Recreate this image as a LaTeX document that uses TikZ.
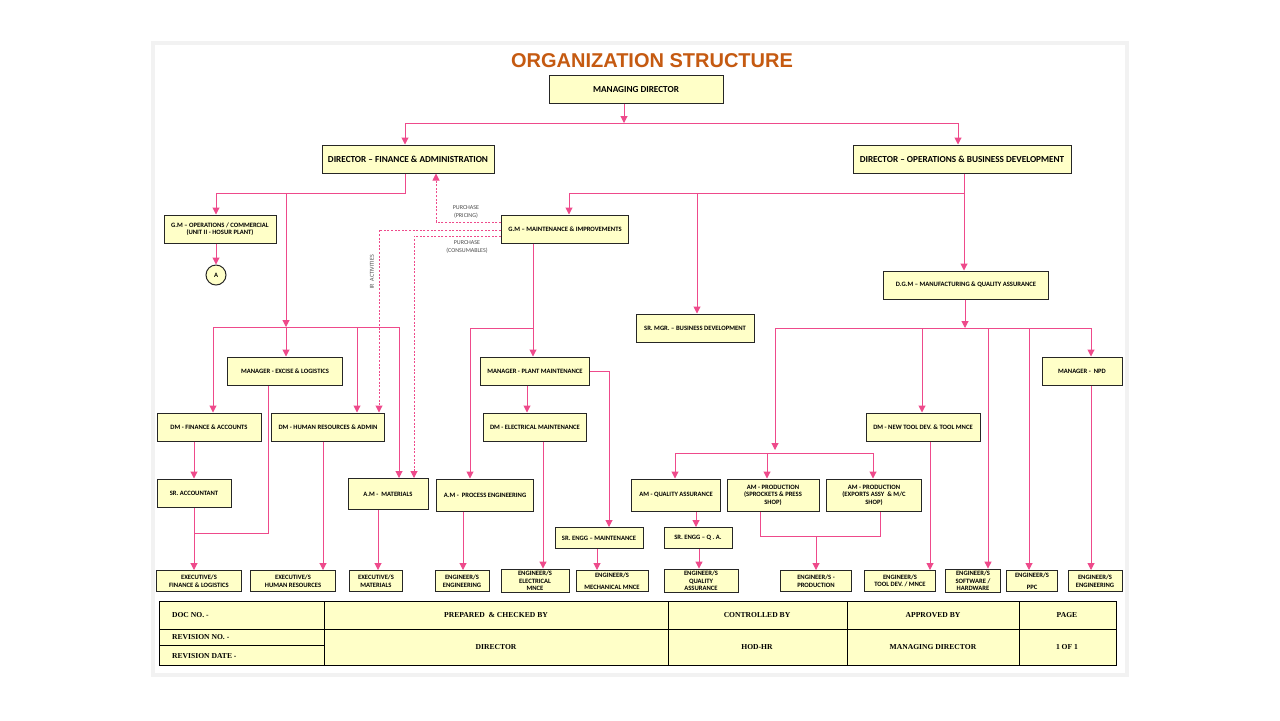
\documentclass[tikz,border=0pt]{standalone}
\usepackage{fontspec}
\setmainfont{Carlito}
\newfontfamily\tabfont{Liberation Serif}
\newfontfamily\titlefont{Liberation Sans}
\usetikzlibrary{arrows.meta}
\definecolor{link}{HTML}{EE4A8B}
\definecolor{boxfill}{HTML}{FFFFC8}
\definecolor{titleorange}{HTML}{C55A11}
\begin{document}
\begin{tikzpicture}[x=0.5pt, y=-0.5pt,
  box/.style={draw=black!85, fill=boxfill, line width=0.5pt, inner sep=1pt,
    align=center, font=\bfseries\fontsize{3.3}{3.8}\selectfont, minimum height=14pt},
  big/.style={box, font=\bfseries\fontsize{4.6}{5.5}\selectfont},
  line/.style={draw=link, line width=0.5pt},
  arr/.style={line, -{Triangle[length=3.5pt, width=3.5pt]}},
  dashlink/.style={arr, dash pattern=on 1pt off 0.8pt},
  note/.style={font=\fontsize{3}{3.6}\selectfont, text=black!70, align=center},
  cell/.style={font=\tabfont\bfseries\fontsize{3.8}{4.5}\selectfont}]
\useasboundingbox (0,0) rectangle (1280,720);
\fill[white] (0,0) rectangle (1280,720);
\fill[black!5] (151,41) rectangle (1129,677);
\fill[white] (155,45) rectangle (1125,673);
\node[font=\titlefont\bfseries\fontsize{10}{12}\selectfont, text=titleorange] (title) at (652,61) {ORGANIZATION STRUCTURE};
% top levels
\node[big, minimum width=87pt, text depth=-3pt] (md) at (636,89) {MANAGING DIRECTOR};
\node[big, minimum width=86pt, text depth=-3pt] (dfa) at (408,159) {DIRECTOR -- FINANCE \& ADMINISTRATION};
\node[big, minimum width=109pt, text depth=-3pt] (dobd) at (962,159) {DIRECTOR -- OPERATIONS \& BUSINESS DEVELOPMENT};
\node[box, minimum width=56pt] (gmoc) at (220,229) {G.M -- OPERATIONS / COMMERCIAL\\(UNIT II - HOSUR PLANT)};
\node[draw=black!85, fill=boxfill, circle, line width=0.5pt, minimum size=10pt, inner sep=0pt, font=\bfseries\fontsize{3.3}{4}\selectfont] (a) at (216,275) {A};
\node[box, minimum width=63.5pt] (gmmi) at (565,229) {G.M -- MAINTENANCE \& IMPROVEMENTS};
\node[box, minimum width=59pt] (srbd) at (695,328) {SR. MGR. -- BUSINESS DEVELOPMENT};
\node[box, minimum width=82.5pt] (dgm) at (966,285) {D.G.M -- MANUFACTURING \& QUALITY ASSURANCE};
% managers
\node[box, minimum width=57.5pt] (mel) at (285,371) {MANAGER - EXCISE \& LOGISTICS};
\node[box, minimum width=54.5pt] (mpm) at (535,371) {MANAGER - PLANT MAINTENANCE};
\node[box, minimum width=40pt] (mnpd) at (1082,371) {MANAGER -\ \ NPD};
\node[box, minimum width=52pt] (dmfa) at (209,427) {DM - FINANCE \& ACCOUNTS};
\node[box, minimum width=56.5pt] (dmhr) at (328,427) {DM - HUMAN RESOURCES \& ADMIN};
\node[box, minimum width=51.5pt] (dmem) at (535,427) {DM - ELECTRICAL MAINTENANCE};
\node[box, minimum width=57pt] (dmnt) at (923,427) {DM - NEW TOOL DEV. \& TOOL MNCE};
% assistant managers
\node[box, minimum width=37pt] (sracc) at (194,493) {SR. ACCOUNTANT};
\node[box, minimum width=40pt, minimum height=15.5pt] (amm) at (388,494) {A.M -\ \ MATERIALS};
\node[box, minimum width=48.5pt, minimum height=16pt] (ampe) at (485,495) {A.M -\ \ PROCESS ENGINEERING};
\node[box, minimum width=44.5pt, minimum height=16pt] (amqa) at (676,495) {AM - QUALITY ASSURANCE};
\node[box, minimum width=46pt, minimum height=16pt] (amps) at (773,495) {AM - PRODUCTION\\(SPROCKETS \& PRESS\\SHOP)};
\node[box, minimum width=47.5pt, minimum height=16pt] (ampx) at (874,495) {AM - PRODUCTION\\(EXPORTS ASSY\ \ \& M/C\\SHOP)};
\node[box, minimum width=44pt, minimum height=10.5pt] (srengm) at (599,538) {SR. ENGG -- MAINTENANCE};
\node[box, minimum width=34pt, minimum height=10.5pt] (srengq) at (698,538) {SR. ENGG -- Q . A.};
% bottom row
\node[box, minimum width=42.5pt, minimum height=10.5pt] (exfl) at (199,581) {EXECUTIVE/S\\FINANCE \& LOGISTICS};
\node[box, minimum width=42.5pt, minimum height=10.5pt] (exhr) at (293,581) {EXECUTIVE/S\\HUMAN RESOURCES};
\node[box, minimum width=26.5pt, minimum height=10.5pt] (exm) at (376,581) {EXECUTIVE/S\\MATERIALS};
\node[box, minimum width=27pt, minimum height=10.5pt] (enge) at (462,581) {ENGINEER/S\\ENGINEERING};
\node[box, minimum width=34pt, minimum height=10.5pt] (engel) at (535,581) {ENGINEER/S\\ELECTRICAL\\MNCE};
\node[box, minimum width=36pt, minimum height=10.5pt] (engmm) at (612,581) {ENGINEER/S\\[2pt]MECHANICAL MNCE};
\node[box, minimum width=37pt, minimum height=10.5pt] (engqa) at (701,581) {ENGINEER/S\\QUALITY\\ASSURANCE};
\node[box, minimum width=35.5pt, minimum height=10.5pt] (engp) at (816,581) {ENGINEER/S -\\PRODUCTION};
\node[box, minimum width=35.5pt, minimum height=10.5pt] (engtd) at (900,581) {ENGINEER/S\\TOOL DEV. / MNCE};
\node[box, minimum width=27.5pt, minimum height=10.5pt] (engsh) at (973,581) {ENGINEER/S\\SOFTWARE /\\HARDWARE};
\node[box, minimum width=25.5pt, minimum height=10.5pt] (engppc) at (1032,581) {ENGINEER/S\\[2pt]PPC};
\node[box, minimum width=27pt, minimum height=10.5pt] (engen) at (1095,581) {ENGINEER/S\\ENGINEERING};
% managing director
\draw[arr] (md.south -| 624,0) -- (624,123);
\draw[line] (405,123) -- (958,123);
\draw[arr] (405,123) -- (dfa.north -| 405,0);
\draw[arr] (958,123) -- (dobd.north -| 958,0);
% finance & administration
\draw[line] (dfa.south -| 405,0) |- (286,193);
\draw[arr] (286,193) -| (gmoc.north -| 216,0);
\draw[arr] (gmoc.south -| 216,0) -- (a);
\draw[arr] (286,193) -- (286,327);
\draw[line] (213,327) -- (399,327);
\draw[arr] (213,327) -- (dmfa.north -| 213,0);
\draw[arr] (286,327) -- (mel.north -| 286,0);
\draw[arr] (357,327) -- (dmhr.north -| 357,0);
\draw[arr] (399,327) -- (amm.north -| 399,0);
\draw[arr] (dmfa.south -| 194,0) -- (sracc);
\draw[arr] (sracc) -- (exfl.north -| 194,0);
\draw[line] (mel.south -| 268,0) |- (194,533);
\draw[arr] (dmhr.south -| 323,0) -- (exhr.north -| 323,0);
\draw[arr] (amm.south -| 378,0) -- (exm.north -| 378,0);
% dotted links
\draw[dashlink] (gmmi.west |- 0,222) -| (dfa.south -| 436,0);
\draw[dashlink] (gmmi.west |- 0,230) -| (dmhr.north -| 379,0);
\draw[dashlink] (gmmi.west |- 0,236) -| (amm.north -| 414,0);
\node[note] (pricing) at (466,212) {PURCHASE\\(PRICING)};
\node[note] (consum) at (467,247) {PURCHASE\\(CONSUMABLES)};
\node[note, rotate=90] (ir) at (372,272) {IR\ \ ACTIVITIES};
% operations & business development
\draw[line] (dobd.south -| 964,0) -- (964,193) -- (569,193);
\draw[arr] (569,193) -- (gmmi.north -| 569,0);
\draw[arr] (697,193) -- (srbd.north -| 697,0);
\draw[arr] (964,193) -- (dgm.north -| 964,0);
\draw[arr] (gmmi.south -| 533,0) -- (mpm.north -| 533,0);
\draw[arr] (533,328) -| (ampe.north -| 470,0);
\draw[arr] (mpm.south -| 527,0) -- (dmem.north -| 527,0);
\draw[arr] (mpm.east) -| (srengm.north -| 609,0);
\draw[arr] (dmem.south -| 543,0) -- (engel.north -| 543,0);
\draw[arr] (ampe.south -| 463,0) -- (enge.north -| 463,0);
\draw[arr] (srengm.south -| 597,0) -- (engmm.north -| 597,0);
% manufacturing & quality
\draw[arr] (dgm.south -| 965,0) -- (965,328);
\draw[line] (775,328) -- (1091,328);
\draw[arr] (775,328) -- (775,450);
\draw[line] (675,453) -- (873,453);
\draw[arr] (675,453) -- (amqa.north -| 675,0);
\draw[arr] (767,453) -- (amps.north -| 767,0);
\draw[arr] (873,453) -- (ampx.north -| 873,0);
\draw[arr] (922,328) -- (dmnt.north -| 922,0);
\draw[arr] (988,328) -- (engsh.north -| 988,0);
\draw[arr] (1029,328) -- (engppc.north -| 1029,0);
\draw[arr] (1091,328) -- (mnpd.north -| 1091,0);
\draw[arr] (dmnt.south -| 930,0) -- (engtd.north -| 930,0);
\draw[arr] (mnpd.south -| 1091,0) -- (engen.north -| 1091,0);
\draw[arr] (amqa.south -| 696,0) -- (srengq.north -| 696,0);
\draw[arr] (srengq.south -| 699,0) -- (engqa.north -| 699,0);
\draw[line] (amps.south -| 760,0) |- (880,536) -- (ampx.south -| 880,0);
\draw[arr] (816,536) -- (engp);
% document table
\draw[fill=boxfill, line width=0.5pt] (159,601) rectangle (1116,665);
\draw[line width=0.5pt] (159,629) -- (1116,629) (159,645) -- (324,645);
\foreach \cx in {324,668,847,1019} \draw[line width=0.5pt] (\cx,601) -- (\cx,665);
\node[cell, anchor=west] (docno) at (165,615) {DOC NO. -};
\node[cell, anchor=west] (revno) at (165,637) {REVISION NO. -};
\node[cell, anchor=west] (revdate) at (165,656) {REVISION DATE -};
\node[cell] (prep) at (496,615) {PREPARED\ \ \& CHECKED BY};
\node[cell] (ctrl) at (757,615) {CONTROLLED BY};
\node[cell] (appr) at (933,615) {APPROVED BY};
\node[cell] (page) at (1067,615) {PAGE};
\node[cell] (dir) at (496,647) {DIRECTOR};
\node[cell] (hod) at (757,647) {HOD-HR};
\node[cell] (mdir) at (933,647) {MANAGING DIRECTOR};
\node[cell] (pg) at (1067,647) {1 OF 1};
\end{tikzpicture}
\end{document}
